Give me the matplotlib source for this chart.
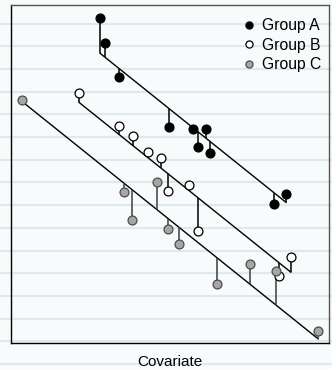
import matplotlib
matplotlib.use('Agg')
import matplotlib.pyplot as plt
from matplotlib.lines import Line2D
import numpy as np

# --- Data: covariate (x) and response (y) per group ---
GROUP_NAMES = ['Group A', 'Group B', 'Group C']

x_a = [2.81, 2.96, 3.41, 4.98, 5.74, 5.87, 6.14, 6.27, 8.28, 8.65]
y_a = [9.62, 8.87, 7.86, 6.39, 6.32, 5.80, 6.32, 5.62, 4.10, 4.40]

x_b = [2.15, 3.40, 3.85, 4.31, 4.71, 4.93, 5.59, 5.89, 8.44, 8.80]
y_b = [7.39, 6.43, 6.12, 5.66, 5.47, 4.50, 4.67, 3.31, 1.98, 2.55]

x_c = [0.36, 3.57, 3.81, 4.61, 4.95, 5.29, 6.49, 7.51, 8.33, 9.66]
y_c = [7.19, 4.47, 3.64, 4.75, 3.36, 2.94, 1.75, 2.35, 2.13, 0.36]

# --- Plotting Configuration ---
FIG_SIZE = (3.32, 3.69)
DPI = 100
AXES_GEOMETRY = [0.0322, 0.0705, 0.9587, 0.916]
BG_COLOR = '#f8fbfb'
STRIPE_COLOR = '#dde9ea'
FONT = 'Liberation Sans'

STYLES = [
    dict(mfc='black', mec='black', stem='black'),
    dict(mfc='white', mec='black', stem='black'),
    dict(mfc='#a6a6a6', mec='#4d4d4d', stem='#3c3c3c'),
]
# ---------------------


def common_slope_fit(groups):
    """ANCOVA style fit: one pooled slope, a separate intercept per group."""
    sxx = 0.0
    sxy = 0.0
    for x, y in groups:
        x = np.asarray(x)
        y = np.asarray(y)
        sxx += np.sum((x - x.mean()) ** 2)
        sxy += np.sum((x - x.mean()) * (y - y.mean()))
    slope = sxy / sxx
    intercepts = [np.mean(y) - slope * np.mean(x) for x, y in groups]
    return slope, intercepts


def main():
    plt.rcParams['font.family'] = [FONT, 'DejaVu Sans']

    groups = [(x_a, y_a), (x_b, y_b), (x_c, y_c)]
    slope, intercepts = common_slope_fit(groups)

    fig = plt.figure(figsize=FIG_SIZE, dpi=DPI, facecolor=BG_COLOR)

    # ruled-paper background stripes across the whole figure
    for k in range(16):
        yf = 1 - (23.5 + 22.7 * k) / 369.0
        fig.add_artist(Line2D([0, 1], [yf, yf], transform=fig.transFigure,
                              color=STRIPE_COLOR, lw=1.6, zorder=-5))

    ax = fig.add_axes(AXES_GEOMETRY)
    ax.set_facecolor('none')

    for (x, y), b, name, st in zip(groups, intercepts, GROUP_NAMES, STYLES):
        x = np.asarray(x)
        y = np.asarray(y)
        fitted = b + slope * x
        # fitted line over the group's covariate range
        xs = np.array([x.min(), x.max()])
        ax.plot(xs, b + slope * xs, color='black', lw=1.0, zorder=2)
        # residuals
        ax.vlines(x, y, fitted, color=st['stem'], lw=1.1, zorder=2)
        ax.plot(x, y, linestyle='none', marker='o', markersize=6.4,
                markerfacecolor=st['mfc'], markeredgecolor=st['mec'],
                markeredgewidth=0.9, zorder=3, label=name)

    ax.set_xlim(0, 10)
    ax.set_ylim(0, 10)
    ax.set_xticks([])
    ax.set_yticks([])
    ax.spines['left'].set_color('black')
    ax.spines['bottom'].set_color('black')
    ax.spines['top'].set_color('#555555')
    ax.spines['right'].set_color('#555555')
    for s in ax.spines.values():
        s.set_linewidth(1.0)

    ax.set_xlabel('Covariate', fontsize=11, labelpad=9)

    ax.legend(loc='upper right', bbox_to_anchor=(0.995, 0.980),
              frameon=False, fontsize=11.3, borderaxespad=0,
              markerscale=0.8, handlelength=1.0, handletextpad=0.3,
              labelspacing=0.3)

    fig.savefig('out.png', dpi=DPI, facecolor=BG_COLOR)
    plt.close(fig)


if __name__ == '__main__':
    main()
